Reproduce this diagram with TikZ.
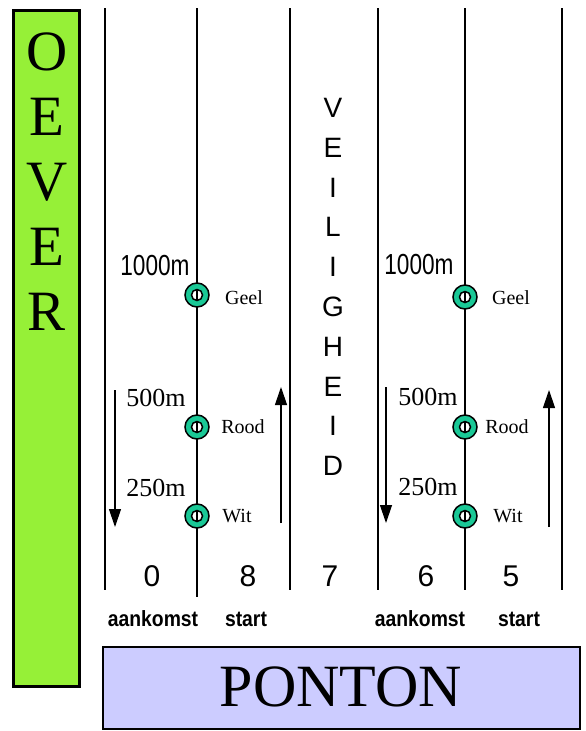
\documentclass[tikz,border=0pt]{standalone}
\usepackage{fontspec}
\setmainfont{Liberation Serif}
\setsansfont{Liberation Sans}
\usepackage{tikz}
\usetikzlibrary{positioning, arrows, arrows.meta}
\definecolor{oevergreen}{RGB}{150,240,55}
\definecolor{pontonblue}{RGB}{204,204,255}
\definecolor{buoygreen}{RGB}{26,200,150}

\begin{document}
\begin{tikzpicture}[x=1pt, y=-1pt,
    lane/.style={line width=1.2pt},
    pijl/.style={line width=1.2pt, -{Triangle[length=18pt, width=12pt]}},
    buoy/.style={circle, draw, line width=1.5pt, fill=buoygreen, minimum size=24pt, inner sep=0pt,
        path picture={\draw[line width=1.5pt, fill=white] (path picture bounding box.center) circle (5.5pt);
            \draw[line width=1.2pt] ([yshift=5.5pt]path picture bounding box.center) -- ([yshift=-5.5pt]path picture bounding box.center);}},
    kleur/.style={font=\fontsize{20}{20}\selectfont},
    afstand/.style={font=\fontsize{26}{26}\selectfont},
    baan/.style={font=\sffamily\fontsize{30}{30}\selectfont},
    rol/.style={font=\sffamily\bfseries\fontsize{22}{22}\selectfont}]
    \useasboundingbox (0,0) rectangle (586,731);

    % Define shapes
    \draw[line width=3pt, fill=oevergreen] (13,10) rectangle (79,686);
    \draw[line width=2.5pt, fill=pontonblue] (103,647) rectangle (580,729);
    \foreach \x/\yb in {105/590, 197/597, 290/590, 378/590, 465/590, 562/590}
        \draw[lane] (\x,8) -- (\x,\yb);

    % Define nodes
    \node (oever) at (47,182) [align=center, font=\fontsize{57}{65}\selectfont] {O\\E\\V\\E\\R};
    \node (veiligheid) at (333,287) [align=center, font=\sffamily\fontsize{28}{39.8}\selectfont] {V\\E\\I\\L\\I\\G\\H\\E\\I\\D};
    \node (ponton) at (341,687) [font=\fontsize{60}{60}\selectfont] {PONTON};

    \node[buoy] (geelL) at (197,295) {};
    \node[buoy] (roodL) at (197,427) {};
    \node[buoy] (witL) at (197,516) {};
    \node[buoy] (geelR) at (465,297) {};
    \node[buoy] (roodR) at (465,427) {};
    \node[buoy] (witR) at (465,516) {};

    \node[kleur] (geelLt) at (244,298) {Geel};
    \node[kleur] (roodLt) at (243,427) {Rood};
    \node[kleur] (witLt) at (237,516) {Wit};
    \node[kleur] (geelRt) at (511,298) {Geel};
    \node[kleur] (roodRt) at (507,427) {Rood};
    \node[kleur] (witRt) at (508,516) {Wit};

    \node[font=\sffamily\fontsize{29}{29}\selectfont] (km1L) at (155,266) {\scalebox{0.78}[1]{1000m}};
    \node[afstand] (km05L) at (156,398) {500m};
    \node[afstand] (km025L) at (156,488) {250m};
    \node[font=\sffamily\fontsize{29}{29}\selectfont] (km1R) at (419,265) {\scalebox{0.78}[1]{1000m}};
    \node[afstand] (km05R) at (428,397) {500m};
    \node[afstand] (km025R) at (428,487) {250m};

    \node[baan] (baan0) at (152,576) {0};
    \node[baan] (baan8) at (248,576) {8};
    \node[baan] (baan7) at (330,576) {7};
    \node[baan] (baan6) at (426,576) {6};
    \node[baan] (baan5) at (511,576) {5};

    \node[rol] (aankomstL) at (153,619) {\scalebox{0.88}[1]{aankomst}};
    \node[rol] (startL) at (246,619) {\scalebox{0.88}[1]{start}};
    \node[rol] (aankomstR) at (420,619) {\scalebox{0.88}[1]{aankomst}};
    \node[rol] (startR) at (519,619) {\scalebox{0.88}[1]{start}};

    % Draw arrows
    \coordinate (pijlAa) at (115,390);
    \coordinate (pijlAb) at (115,527);
    \coordinate (pijlBa) at (281,523);
    \coordinate (pijlBb) at (281,387);
    \coordinate (pijlCa) at (386,387);
    \coordinate (pijlCb) at (386,523);
    \coordinate (pijlDa) at (549,527);
    \coordinate (pijlDb) at (549,390);
    \draw[pijl] (pijlAa) -- (pijlAb);
    \draw[pijl] (pijlBa) -- (pijlBb);
    \draw[pijl] (pijlCa) -- (pijlCb);
    \draw[pijl] (pijlDa) -- (pijlDb);
\end{tikzpicture}
\end{document}
